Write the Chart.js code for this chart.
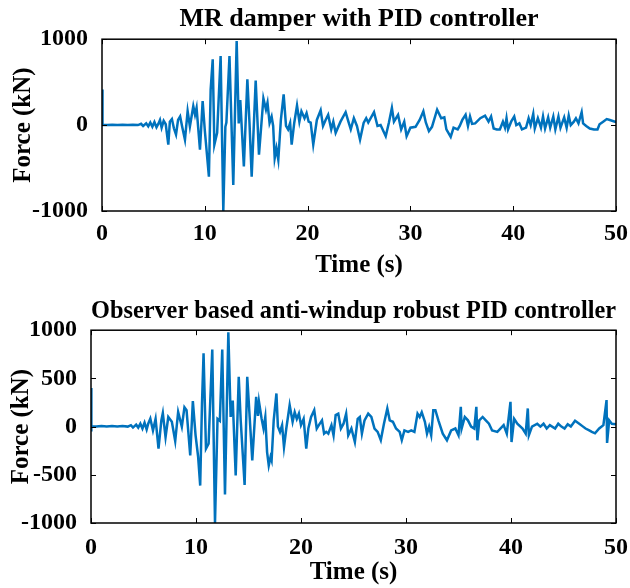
<!DOCTYPE html>
<html>
<head>
<meta charset="utf-8">
<script src="https://cdn.jsdelivr.net/npm/chart.js@4.4.0/dist/chart.umd.min.js"></script>
<style>
  body { margin: 0; background: #fff; }
  .wrap { position: relative; width: 630px; height: 588px; }
  canvas { position: absolute; left: 0; }
  #top { top: 0; }
  #bottom { top: 295px; }
</style>
</head>
<body>
<div class="wrap">
  <canvas id="top" width="630" height="295"></canvas>
  <canvas id="bottom" width="630" height="293"></canvas>
</div>
<script>
const titles = ["MR damper with PID controller", "Observer based anti-windup robust PID controller"];
const xTicks = [0, 10, 20, 30, 40, 50];
const yTicksTop = [-1000, 0, 1000];
const yTicksBottom = [-1000, -500, 0, 500, 1000];

// MR damper with PID controller: time (s) / force (kN)
const tPid = [0, 0.05, 0.5, 1, 1.5, 2, 2.5, 3, 3.5, 3.8, 4, 4.3, 4.5, 4.7, 4.9, 5.1, 5.3, 5.5, 5.64, 5.8,
  6, 6.2, 6.45, 6.6, 6.8, 7, 7.2, 7.4, 7.6, 7.8, 8.07, 8.33, 8.55, 8.88, 9.05, 9.2, 9.53, 9.79, 10, 10.4,
  10.57, 10.77, 10.93, 11.2, 11.54, 11.8, 12, 12.1, 12.4, 12.77, 13.1, 13.3, 13.45, 13.8, 14.14, 14.35, 14.56, 14.95, 15.27, 15.7,
  15.95, 16.1, 16.3, 16.5, 16.65, 16.8, 16.97, 17.15, 17.4, 17.67, 17.9, 18.1, 18.3, 18.45, 18.7, 18.97, 19.2, 19.4, 19.7, 19.9,
  20.1, 20.3, 20.55, 20.9, 21.27, 21.5, 21.75, 22, 22.3, 22.5, 22.73, 23.2, 23.7, 23.97, 24.2, 24.5, 24.8, 25.1, 25.45, 25.7,
  25.9, 26.46, 26.8, 27.1, 27.6, 27.9, 28.2, 28.4, 28.8, 29.1, 29.4, 29.63, 30, 30.5, 30.9, 31.26, 31.5, 31.8, 32.1, 32.6,
  33, 33.3, 33.5, 33.92, 34.2, 34.6, 34.8, 35.05, 35.37, 35.6, 35.8, 36, 36.3, 36.8, 37.26, 37.6, 37.85, 38.1, 38.4, 38.7,
  39, 39.2, 39.35, 39.5, 39.8, 40.1, 40.3, 40.6, 40.85, 41.25, 41.5, 41.7, 41.95, 42.1, 42.4, 42.7, 42.9, 43.1, 43.4, 43.6,
  43.9, 44.1, 44.4, 44.6, 44.96, 45.2, 45.4, 45.6, 45.9, 46.1, 46.35, 46.66, 46.8, 47.1, 47.45, 47.85, 48.2, 48.4, 48.75, 49.1,
  49.4, 49.9, 50];
const fPid = [415, 0, 0, 5, 0, 5, 0, 5, 0, 15, -10, 20, -15, 30, -20, 35, -25, 20, 60, -30,
  50, 10, -228, 40, 70, -40, -110, 60, 100, -20, -170, 162, -15, 220, 120, 200, -287, 279, -60, -600,
  415, 766, -228, -90, 805, -1000, -20, 30, 805, -696, 980, 20, 290, -482, 532, 20, -600, 520, -345, 310,
  180, 260, 25, 100, -10, -384, -270, -404, 60, 357, -10, -50, 25, -228, 25, 228, 40, 160, 80, 140,
  40, 30, -228, 60, 173, -10, 60, 120, -50, 40, -90, 40, 150, 40, -50, 80, -10, -170, 25, 80,
  30, 150, -10, 0, -130, 25, 200, 40, 120, -50, 40, -130, -30, -20, 60, 160, 30, -70, -20, 180,
  80, 90, -50, -138, -30, -50, -10, 60, 120, -10, 100, 15, 20, 80, 110, 40, 100, -40, -50, -50,
  40, -30, 80, -50, 40, 100, 0, 20, -50, -30, 80, 0, 130, -40, 80, -30, 100, -40, 90, -30,
  100, -50, 100, -30, 90, -30, 110, 0, 40, 80, 20, 150, 20, -10, -40, -50, -50, 10, 40, 70,
  60, 40, 40];

// Observer based anti-windup robust PID controller: time (s) / force (kN)
const tObs = [0, 0.02, 0.05, 0.5, 1, 1.5, 2, 2.5, 3, 3.5, 3.8, 4, 4.3, 4.5, 4.7, 4.9, 5.1, 5.3, 5.45, 5.65,
  5.9, 6.15, 6.43, 6.7, 6.84, 7.1, 7.36, 7.7, 8.02, 8.3, 8.65, 8.9, 9.1, 9.45, 9.7, 9.96, 10.2, 10.4, 10.57, 10.72,
  10.95, 11.2, 11.55, 11.81, 12.05, 12.27, 12.5, 12.76, 13.08, 13.3, 13.5, 13.78, 14.07, 14.26, 14.63, 14.88, 15.36, 15.73, 15.9, 16,
  16.25, 16.43, 16.6, 16.77, 16.93, 17.1, 17.2, 17.4, 17.66, 17.8, 18, 18.2, 18.38, 18.6, 18.92, 19.2, 19.4, 19.6, 19.8, 20,
  20.25, 20.5, 20.7, 20.96, 21.26, 21.5, 21.7, 22, 22.2, 22.4, 22.6, 22.9, 23.1, 23.3, 23.55, 23.8, 24.05, 24.3, 24.5, 24.8,
  25.13, 25.4, 25.6, 25.8, 26.05, 26.4, 26.7, 27, 27.3, 27.6, 27.9, 28.22, 28.45, 28.75, 29.05, 29.4, 29.6, 29.85, 30.2, 30.5,
  30.8, 31.1, 31.3, 31.5, 31.8, 32, 32.2, 32.4, 32.6, 32.8, 33.1, 33.5, 33.9, 34.3, 34.7, 35, 35.22, 35.3, 35.6, 35.9,
  36.2, 36.5, 36.7, 36.8, 36.98, 37.3, 37.6, 37.9, 38.2, 38.7, 39.3, 39.6, 39.95, 40.05, 40.3, 40.6, 41.1, 41.4, 41.6, 41.7,
  42, 42.5, 42.8, 43.1, 43.4, 43.7, 44.2, 44.5, 44.8, 45.1, 45.4, 45.7, 46.1, 46.5, 46.8, 47.1, 47.45, 47.7, 48, 48.4,
  48.8, 49.1, 49.15, 49.35, 49.6, 50];
const fObs = [400, -50, 0, 0, 5, 0, 5, 0, 5, 0, 15, -10, 20, -10, 30, -20, 40, -30, 30, 83,
  -40, 80, -229, 65, 140, -110, 100, 50, -150, 152, 0, 200, 170, -299, 265, -90, -310, -612, 240, 760,
  -229, -177, 800, -1000, 80, 60, 800, -703, 978, 100, 270, -507, 517, 60, -605, 517, -351, 309, 110, 257,
  80, -20, 100, -264, -403, -315, -350, 65, 344, 0, -55, 15, -212, -20, 222, 50, 150, 80, 135, 15,
  80, -229, -20, 100, 170, -20, 15, 65, -73, -55, -73, 15, -90, 120, 135, -20, 30, 135, -90, -20,
  -160, 80, 100, -73, 65, 135, 100, -20, -55, -140, 30, 187, 65, 50, -20, -55, -140, -40, -55, -40,
  -55, 135, 100, 150, 50, -73, 0, -90, 170, 170, 60, -73, -142, -40, -20, -90, 205, -20, 100, 65,
  0, -20, 205, -142, 65, 100, 65, 30, -40, -55, 15, -73, 257, -160, 80, 30, -20, -73, 188, -90,
  0, 30, 0, 30, -20, 15, -20, 30, 0, -20, 25, 0, 60, 30, 5, -20, -40, -55, -70, -20,
  15, 275, -170, 65, 30, 25];

const serif = "'Liberation Serif', 'Times New Roman', serif";
const lineColor = "#0072bd";

// full box with inward tick marks, like the original figure
const boxPlugin = {
  id: "box",
  afterDraw(chart) {
    const { ctx, chartArea: a, scales } = chart;
    ctx.save();
    ctx.strokeStyle = "#000";
    ctx.lineWidth = 1.5;
    ctx.strokeRect(a.left, a.top, a.right - a.left, a.bottom - a.top);
    ctx.lineWidth = 1;
    ctx.beginPath();
    scales.x.ticks.forEach((t) => {
      const px = Math.round(scales.x.getPixelForValue(t.value)) + 0.5;
      ctx.moveTo(px, a.bottom);
      ctx.lineTo(px, a.bottom - 5);
      ctx.moveTo(px, a.top);
      ctx.lineTo(px, a.top + 5);
    });
    scales.y.ticks.forEach((t) => {
      const py = Math.round(scales.y.getPixelForValue(t.value)) + 0.5;
      ctx.moveTo(a.left, py);
      ctx.lineTo(a.left + 5, py);
      ctx.moveTo(a.right, py);
      ctx.lineTo(a.right - 5, py);
    });
    ctx.stroke();
    ctx.restore();
  },
};

function makeChart(id, title, ts, fs, yTicks, cfg) {
  const pts = ts.map((t, i) => ({ x: t, y: fs[i] }));
  return new Chart(document.getElementById(id), {
    type: "scatter",
    plugins: [boxPlugin],
    data: {
      datasets: [
        {
          data: pts,
          showLine: true,
          borderColor: lineColor,
          borderWidth: 2.5,
          pointRadius: 0,
          tension: 0,
        },
      ],
    },
    options: {
      responsive: false,
      animation: false,
      layout: { padding: { left: 0, right: cfg.right, top: 0, bottom: 0 } },
      plugins: {
        legend: { display: false },
        tooltip: { enabled: false },
        title: {
          display: true,
          text: title,
          fullSize: false,
          color: "#000",
          font: { family: serif, size: 26, weight: "bold" },
          padding: { top: cfg.titleTop, bottom: cfg.titleBottom },
        },
      },
      scales: {
        x: {
          type: "linear",
          min: 0,
          max: 50,
          afterBuildTicks: (s) => { s.ticks = xTicks.map((v) => ({ value: v })); },
          afterFit: (s) => { s.height = cfg.xHeight; },
          grid: { display: false },
          border: { display: false },
          ticks: {
            color: "#000",
            padding: cfg.xPad,
            maxRotation: 0,
            callback: (v) => String(v),
            font: { family: serif, size: 24, weight: "bold" },
          },
          title: {
            display: true,
            text: "Time (s)",
            color: "#000",
            font: { family: serif, size: 25, weight: "bold" },
            padding: { top: 0, bottom: cfg.xTitleBottom },
          },
        },
        y: {
          type: "linear",
          min: -1000,
          max: 1000,
          afterBuildTicks: (s) => { s.ticks = yTicks.map((v) => ({ value: v })); },
          afterFit: (s) => { s.width = cfg.left; },
          grid: { display: false },
          border: { display: false },
          ticks: {
            color: "#000",
            padding: 6,
            callback: (v) => String(v),
            font: { family: serif, size: 24, weight: "bold" },
          },
          title: {
            display: true,
            text: "Force (kN)",
            color: "#000",
            font: { family: serif, size: 25, weight: "bold" },
            padding: { top: cfg.yTitleLeft, bottom: 0 },
          },
        },
      },
    },
  });
}

makeChart("top", titles[0], tPid, fPid, yTicksTop, {
  left: 102, right: 14, titleTop: 4, titleBottom: 4, xHeight: 84, xPad: 0, xTitleBottom: 14, yTitleLeft: 9,
});
makeChart("bottom", titles[1], tObs, fObs, yTicksBottom, {
  left: 91, right: 11, titleTop: 1, titleBottom: 3, xHeight: 65, xPad: 2, xTitleBottom: 0, yTitleLeft: 7,
});
</script>
</body>
</html>
